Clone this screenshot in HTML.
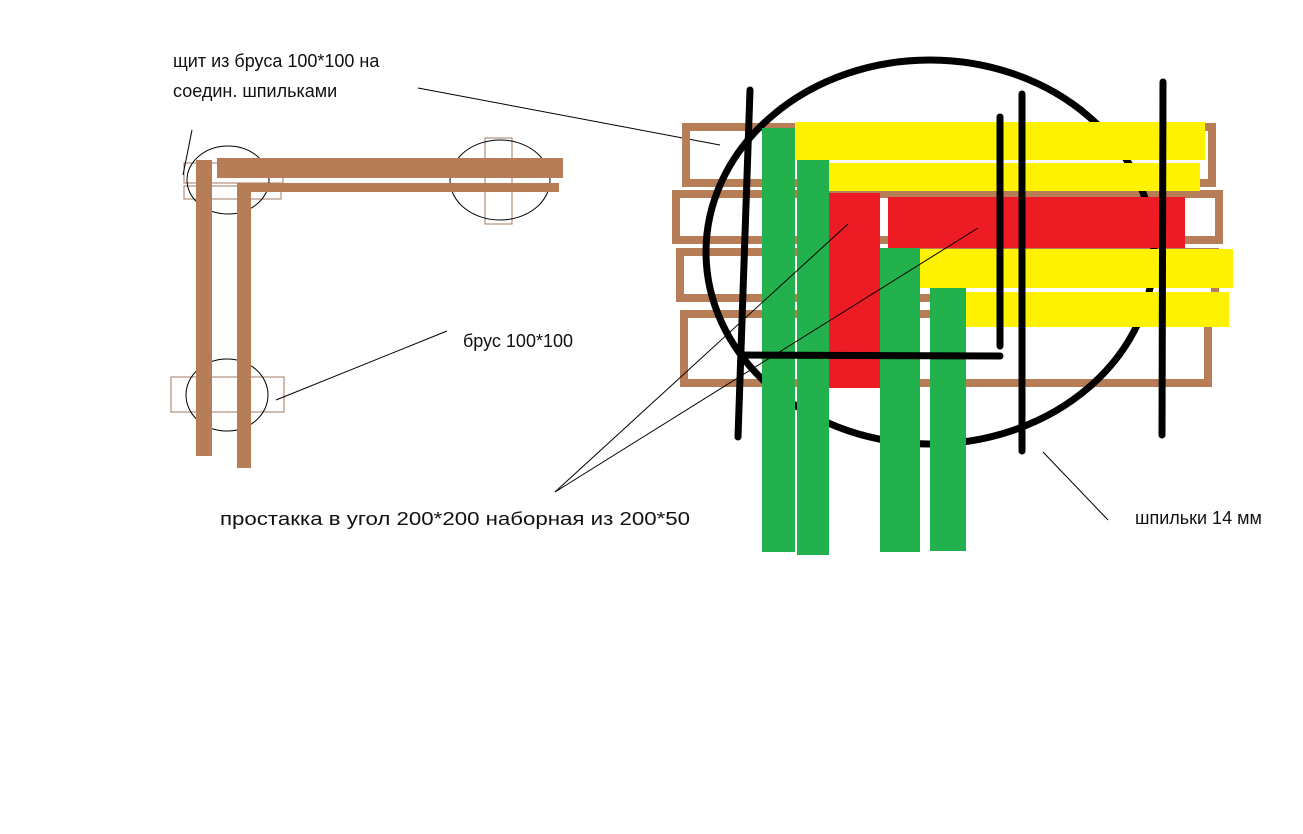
<!DOCTYPE html>
<html><head><meta charset="utf-8"><style>
html,body{margin:0;padding:0;background:#fff;}
svg{display:block;}
text{font-family:"Liberation Sans","DejaVu Sans",sans-serif;font-size:18px;fill:#111;}
</style></head><body>
<svg width="1303" height="834" viewBox="0 0 1303 834" xmlns="http://www.w3.org/2000/svg">
<!-- left diagram -->
<g fill="none" stroke="#a07860" stroke-width="1">
<rect x="184" y="163" width="99" height="20"/>
<rect x="184" y="186" width="97" height="13"/>
<rect x="485" y="138" width="27" height="86"/>
<rect x="171" y="377" width="113" height="35"/>
</g>
<g fill="none" stroke="#000" stroke-width="1">
<ellipse cx="228" cy="180" rx="41" ry="34"/>
<ellipse cx="500" cy="180" rx="50" ry="40"/>
<ellipse cx="227" cy="395" rx="41" ry="36"/>
</g>
<g fill="#b77d57">
<rect x="217" y="158" width="346" height="20"/>
<rect x="237" y="183" width="322" height="9"/>
<rect x="196" y="160" width="16" height="296"/>
<rect x="237" y="183" width="14" height="285"/>
</g>
<g stroke="#000" stroke-width="1">
<line x1="192" y1="130" x2="183" y2="175"/>
<line x1="276" y1="400" x2="447" y2="331"/>
<line x1="418" y1="88" x2="720" y2="145"/>
</g>
<text x="173" y="67">щит из бруса 100*100 на</text>
<text x="173" y="97">соедин. шпильками</text>
<text x="463" y="347">брус 100*100</text>

<!-- right diagram -->
<g fill="none" stroke="#b77d57" stroke-width="8">
<rect x="686" y="127" width="526" height="56"/>
<rect x="676" y="194" width="543" height="46"/>
<rect x="680" y="252" width="535" height="46"/>
<rect x="684" y="314" width="524" height="69"/>
</g>
<ellipse cx="930" cy="252" rx="224" ry="192" fill="none" stroke="#000" stroke-width="7"/>
<g fill="#fff200">
<rect x="795" y="122" width="410" height="38"/>
<rect x="829" y="163" width="371" height="28"/>
<rect x="918" y="249" width="315" height="39"/>
<rect x="965" y="292" width="264" height="35"/>
</g>
<g fill="#ed1c24">
<rect x="829" y="193" width="51" height="195"/>
<rect x="888" y="197" width="297" height="51"/>
</g>
<g fill="#22b14c">
<rect x="762" y="128" width="33" height="424"/>
<rect x="797" y="160" width="32" height="395"/>
<rect x="880" y="248" width="40" height="304"/>
<rect x="930" y="288" width="36" height="263"/>
</g>
<g stroke="#000" stroke-width="7" stroke-linecap="round">
<line x1="750" y1="90" x2="738" y2="437"/>
<line x1="1000" y1="117" x2="1000" y2="346"/>
<line x1="1022" y1="94" x2="1022" y2="451"/>
<line x1="1163" y1="82" x2="1162" y2="435"/>
<line x1="741" y1="355" x2="1000" y2="356"/>
</g>
<g stroke="#000" stroke-width="1">
<line x1="555" y1="492" x2="848" y2="224"/>
<line x1="555" y1="492" x2="978" y2="228"/>
<line x1="1043" y1="452" x2="1108" y2="520"/>
</g>
<text x="220" y="525" textLength="470" lengthAdjust="spacingAndGlyphs">простакка в угол 200*200 наборная из  200*50</text>
<text x="1135" y="524">шпильки 14 мм</text>
</svg>
</body></html>
